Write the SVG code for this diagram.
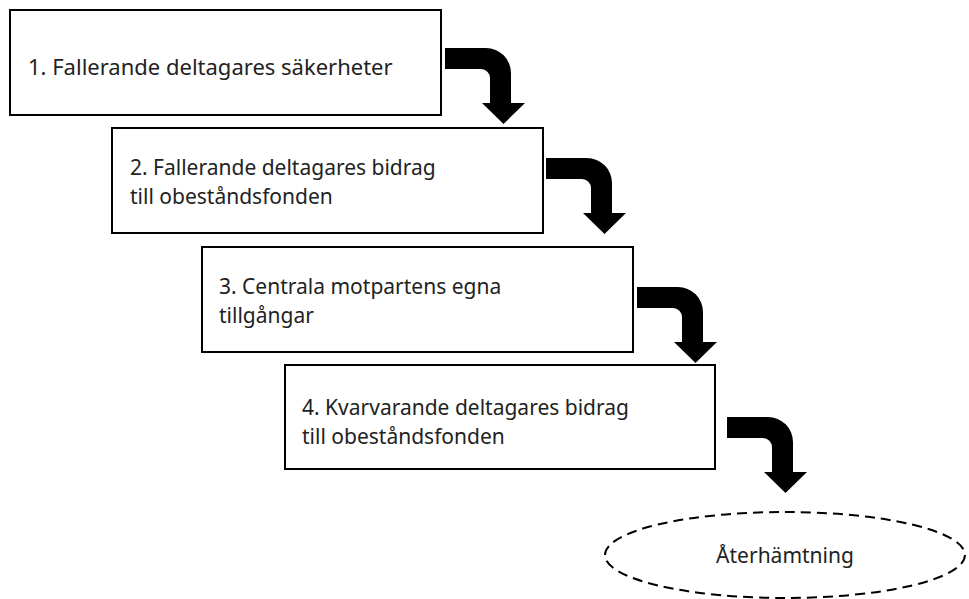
<svg xmlns="http://www.w3.org/2000/svg" width="969" height="599" viewBox="0 0 969 599">
<style>
.box{fill:#fff;stroke:#000;stroke-width:2}
.t{font-family:"Noto Sans","Open Sans",sans-serif;font-size:21px;fill:#222}
.arr{fill:#000}
.ell{fill:none;stroke:#000;stroke-width:2;stroke-dasharray:10 6}
</style>
<defs>
<path id="bend" d="M0,0 H41 A25,25 0 0 1 66,25 V55 H80 L58.5,76 L37,55 H45 V30 A9,9 0 0 0 36,21 H0 Z"/>
</defs>
<rect width="969" height="599" fill="#fff"/>
<g id="connectors">
<use href="#bend" class="arr" transform="translate(445,48)"/>
<use href="#bend" class="arr" transform="translate(546,158)"/>
<use href="#bend" class="arr" transform="translate(637,287)"/>
<use href="#bend" class="arr" transform="translate(727,417)"/>
</g>
<g id="n1">
<rect class="box" x="10" y="10" width="431" height="105"/>
<text class="t" x="28" y="75" style="font-size:22px">1. Fallerande deltagares säkerheter</text>
</g>
<g id="n2">
<rect class="box" x="112" y="128" width="431" height="105"/>
<text class="t" x="130" y="175">2. Fallerande deltagares bidrag</text>
<text class="t" x="130" y="204">till obeståndsfonden</text>
</g>
<g id="n3">
<rect class="box" x="202" y="247" width="431" height="105"/>
<text class="t" x="219" y="294">3. Centrala motpartens egna</text>
<text class="t" x="219" y="323">tillgångar</text>
</g>
<g id="n4">
<rect class="box" x="285" y="365" width="430" height="104"/>
<text class="t" x="302" y="415">4. Kvarvarande deltagares bidrag</text>
<text class="t" x="302" y="444">till obeståndsfonden</text>
</g>
<g id="n5">
<ellipse class="ell" cx="785" cy="555" rx="180" ry="43"/>
<text class="t" x="785" y="563" text-anchor="middle">Återhämtning</text>
</g>
</svg>
